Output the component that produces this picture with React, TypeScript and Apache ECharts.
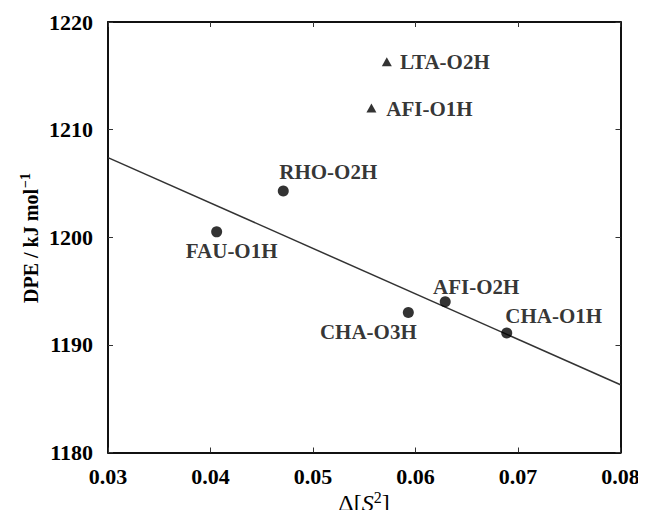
import React, { useEffect, useRef } from "react";
import * as echarts from "echarts";

// ---- data ----
const circleNames = ["RHO-O2H", "FAU-O1H", "AFI-O2H", "CHA-O3H", "CHA-O1H"];
const circleX = [0.0471, 0.0406, 0.0629, 0.0593, 0.0689];
const circleY = [1204.3, 1200.5, 1194.0, 1193.0, 1191.1];

const triNames = ["LTA-O2H", "AFI-O1H"];
const triX = [0.0572, 0.0557];
const triY = [1216.3, 1212.0];

// fitted regression line end points
const fitX = [0.03, 0.08];
const fitY = [1207.4, 1186.3];

const xTicks = [0.03, 0.04, 0.05, 0.06, 0.07, 0.08];
const yTicks = [1180, 1190, 1200, 1210, 1220];

// label placement (offset of label centre from marker centre, px)
const labelOffsets: Record<string, [number, number]> = {
  "RHO-O2H": [45, -19],
  "FAU-O1H": [15, 19],
  "AFI-O2H": [31, -15],
  "CHA-O3H": [-40, 19],
  "CHA-O1H": [47, -17],
  "LTA-O2H": [58, 0],
  "AFI-O1H": [58, 1],
};

const FONT = "Liberation Serif, Times New Roman, serif";

export default function App() {
  const ref = useRef<HTMLDivElement>(null);

  useEffect(() => {
    if (!ref.current) return;
    const chart = echarts.init(ref.current, undefined, { renderer: "svg" });

    const mkPoints = (names: string[], xs: number[], ys: number[]) =>
      names.map((n, i) => ({
        name: n,
        value: [xs[i], ys[i]],
        label: { offset: labelOffsets[n] },
      }));

    const pointLabel = {
      show: true,
      position: "inside",
      formatter: (p: any) => p.name,
      color: "#000",
      textBorderWidth: 0,
      fontFamily: FONT,
      fontWeight: "bold",
      fontSize: 21,
    };

    const xMin = xTicks[0];
    const xMax = xTicks[xTicks.length - 1];
    const yMin = yTicks[0];
    const yMax = yTicks[yTicks.length - 1];

    const axisCommon = {
      type: "value",
      axisLine: { show: true, lineStyle: { color: "#111", width: 2 } },
      axisTick: { show: true, inside: true, length: 5, lineStyle: { color: "#333", width: 1 } },
      splitLine: { show: false },
    };

    chart.setOption({
      animation: false,
      backgroundColor: "#fff",
      grid: {
        left: 108,
        right: 25.5,
        top: 22,
        bottom: 65.5,
        containLabel: false,
        outerBoundsMode: "none",
      },
      xAxis: [
        {
          ...axisCommon,
          position: "bottom",
          min: xMin,
          max: xMax,
          interval: 0.01,
          axisLabel: {
            color: "#000",
            fontFamily: FONT,
            fontWeight: "bold",
            fontSize: 22,
            margin: 13,
            formatter: (v: number) => v.toFixed(2),
          },
        },
        {
          ...axisCommon,
          position: "top",
          min: xMin,
          max: xMax,
          interval: 0.01,
          axisLabel: { show: false },
        },
      ],
      yAxis: [
        {
          ...axisCommon,
          position: "left",
          min: yMin,
          max: yMax,
          interval: 10,
          axisLabel: {
            color: "#000",
            fontFamily: FONT,
            fontWeight: "bold",
            fontSize: 22,
            margin: 15,
            formatter: (v: number) => String(v),
          },
        },
        {
          ...axisCommon,
          position: "right",
          min: yMin,
          max: yMax,
          interval: 10,
          axisLabel: { show: false },
        },
      ],
      series: [
        {
          type: "line",
          data: fitX.map((x, i) => [x, fitY[i]]),
          showSymbol: false,
          symbol: "none",
          lineStyle: { color: "#333", width: 1.5 },
          silent: true,
          z: 1,
        },
        {
          type: "scatter",
          data: mkPoints(circleNames, circleX, circleY),
          symbol: "circle",
          symbolSize: 11,
          itemStyle: { color: "#000" },
          label: pointLabel,
          z: 3,
        },
        {
          type: "scatter",
          data: mkPoints(triNames, triX, triY),
          symbol: "triangle",
          symbolSize: [10, 9],
          itemStyle: { color: "#000" },
          label: pointLabel,
          z: 3,
        },
      ],
      graphic: [
        {
          type: "text",
          x: 31,
          y: 238,
          rotation: Math.PI / 2,
          style: {
            text: "{a|DPE / kJ mol}{b|−1}",
            align: "center",
            verticalAlign: "middle",
            fill: "#000",
            rich: {
              a: { fontFamily: FONT, fontWeight: "bold", fontSize: 20, fill: "#000", color: "#000" },
              b: {
                fontFamily: FONT,
                fontWeight: "bold",
                fontSize: 14,
                fill: "#000",
                color: "#000",
                verticalAlign: "top",
                padding: [0, 0, 11, 1],
              },
            },
          },
        },
        {
          type: "text",
          x: 364,
          y: 517,
          style: {
            text: "{a|Δ[}{s|S}{b|2}{a|]}",
            align: "center",
            verticalAlign: "bottom",
            fill: "#000",
            rich: {
              a: { fontFamily: FONT, fontSize: 24, fill: "#000", color: "#000" },
              s: { fontFamily: FONT, fontSize: 24, fontStyle: "italic", fill: "#000", color: "#000" },
              b: {
                fontFamily: FONT,
                fontSize: 16,
                fill: "#000",
                color: "#000",
                verticalAlign: "top",
                padding: [0, 0, 12, 0],
              },
            },
          },
        },
      ],
    });

    return () => chart.dispose();
  }, []);

  return <div ref={ref} style={{ width: 646, height: 518, margin: -8 }} />;
}
